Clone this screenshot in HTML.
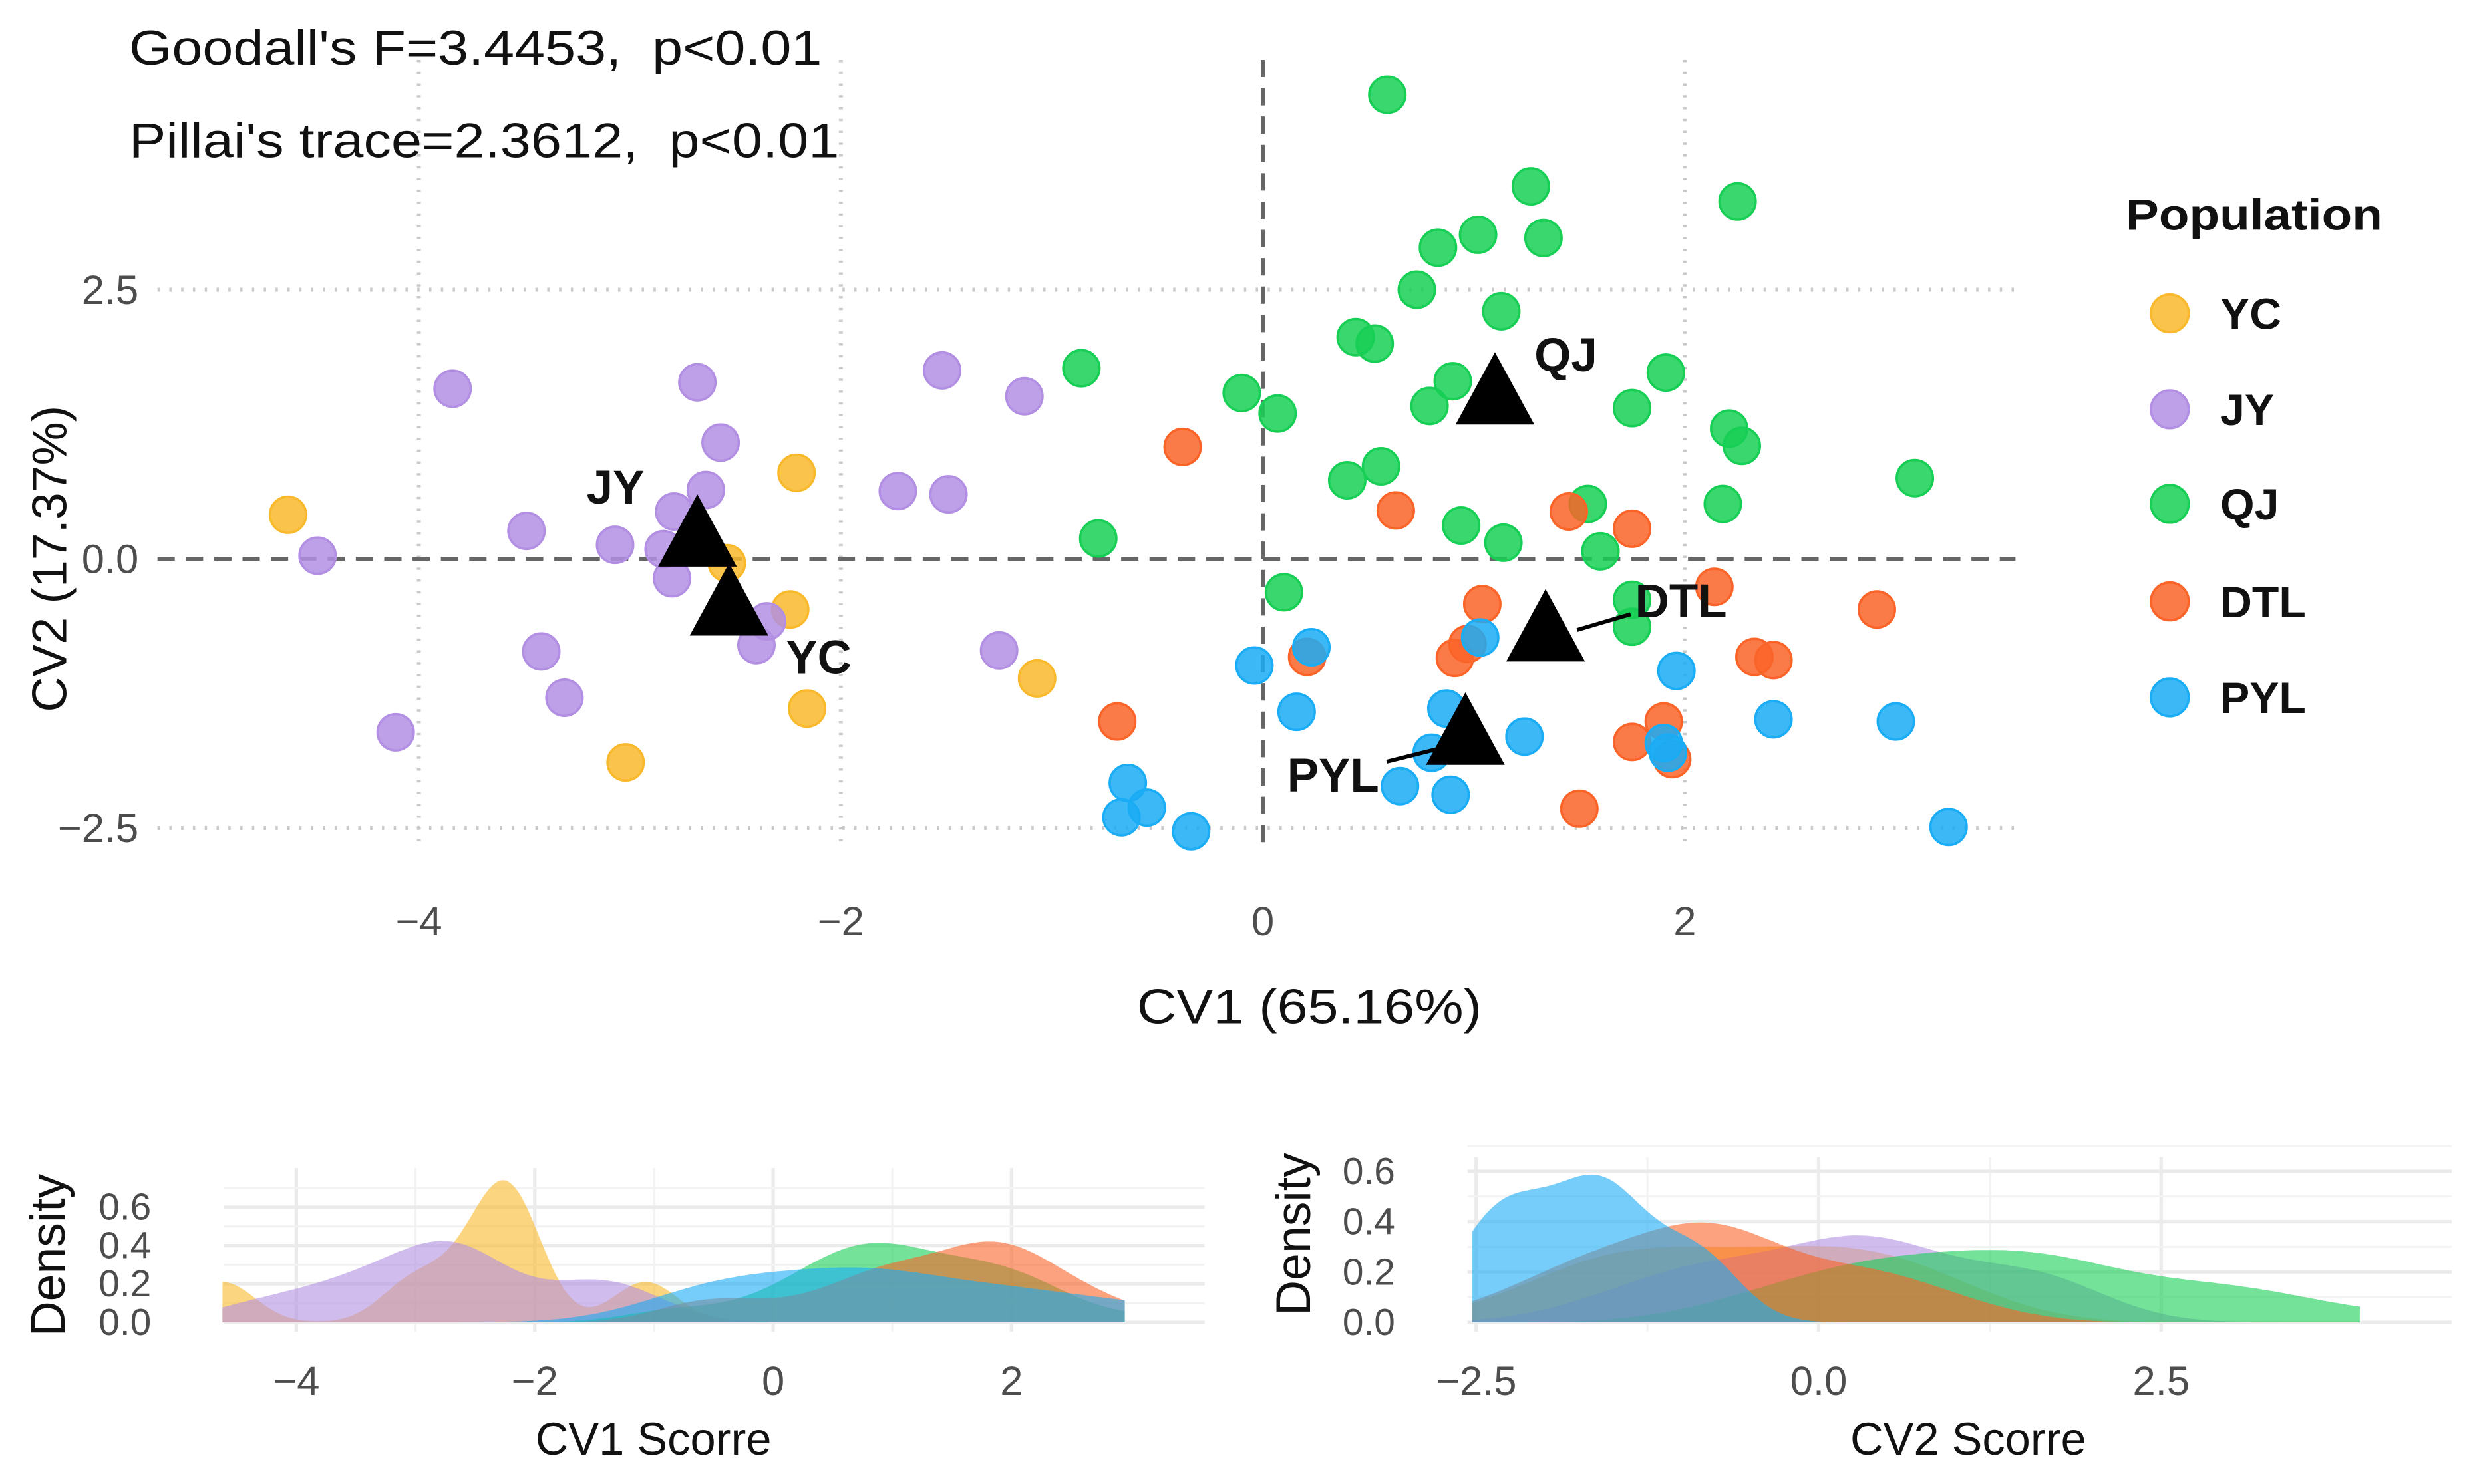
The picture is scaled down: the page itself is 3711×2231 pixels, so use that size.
<!DOCTYPE html>
<html><head><meta charset="utf-8"><style>
html,body{margin:0;padding:0;background:#fff}
svg{display:block}
text{font-family:"Liberation Sans",Arial,sans-serif;white-space:pre}
</style></head><body>
<svg id="chart" width="3711" height="2231" viewBox="0 0 1568 942.64" xmlns="http://www.w3.org/2000/svg">
<g id="main"></g>
<g id="d1"></g>
<g id="d2"></g>
<text x="82" y="41" font-size="31" fill="#111" xml:space="preserve" textLength="440" lengthAdjust="spacingAndGlyphs">Goodall's F=3.4453,  p&lt;0.01</text>
<text x="82" y="100" font-size="31" fill="#111" xml:space="preserve" textLength="451" lengthAdjust="spacingAndGlyphs">Pillai's trace=2.3612,  p&lt;0.01</text>
</svg>
<script>
const groups = ["YC","JY","QJ","DTL","PYL"];
const colors = ["#F9B92C","#B28FE3","#17CF55","#FA6428","#1AACF5"];
const ycX = [-4.62,-2.21,-2.54,-2.24,-2.16,-3.02,-1.07];
const ycY = [0.41,0.80,-0.04,-0.47,-1.39,-1.89,-1.11];
const jyX = [-3.84,-4.48,-3.49,-3.07,-2.68,-2.57,-2.64,-2.79,-2.84,-2.80,-3.42,-3.31,-4.11,-1.52,-1.13,-1.73,-1.49,-2.35,-2.40,-1.25];
const jyY = [1.58,0.03,0.26,0.13,1.64,1.08,0.64,0.44,0.09,-0.18,-0.86,-1.29,-1.61,1.75,1.51,0.63,0.60,-0.58,-0.80,-0.85];
const qjX = [0.59,1.27,2.25,1.02,1.33,0.83,0.73,1.13,0.44,0.53,-0.86,-0.10,0.07,0.90,0.79,1.91,1.75,2.21,2.27,0.56,0.40,3.09,2.18,1.54,0.94,1.14,1.60,-0.78,0.10,1.75,1.75];
const qjY = [4.31,3.46,3.32,3.01,2.98,2.89,2.50,2.30,2.06,2.00,1.77,1.54,1.35,1.65,1.42,1.73,1.40,1.21,1.05,0.86,0.73,0.75,0.51,0.51,0.31,0.15,0.07,0.19,-0.31,-0.38,-0.63];
const dtlX = [-0.38,0.63,1.45,1.75,1.04,0.97,0.91,0.21,2.14,2.91,2.33,2.42,-0.69,1.90,1.75,1.94,1.50];
const dtlY = [1.04,0.45,0.44,0.28,-0.42,-0.79,-0.92,-0.91,-0.26,-0.47,-0.91,-0.94,-1.51,-1.51,-1.70,-1.86,-2.32];
const pylX = [-0.04,0.23,1.03,0.16,0.87,0.80,1.24,1.96,2.42,3.00,1.90,1.92,-0.64,-0.67,-0.55,-0.34,0.65,0.89,3.25];
const pylY = [-0.99,-0.82,-0.73,-1.42,-1.39,-1.80,-1.65,-1.04,-1.49,-1.51,-1.71,-1.80,-2.08,-2.40,-2.31,-2.53,-2.11,-2.19,-2.49];
const centX = [-2.53,-2.68,1.10,1.34,0.96];
const centY = [-0.42,0.22,1.54,-0.66,-1.62];
const xTicks = [-4,-2,0,2];
const yTicks = [-2.5,0,2.5];
const d1XTicks = [-4,-2,0,2];
const d2XTicks = [-2.5,0,2.5];
const d1YTicks = [0,0.2,0.4,0.6];
const d2YTicks = [0,0.2,0.4,0.6];

const NS="http://www.w3.org/2000/svg";
function mk(parent,tag,attrs,txt){const e=document.createElementNS(NS,tag);for(const k in attrs)e.setAttribute(k,attrs[k]);if(txt!==undefined)e.textContent=txt;parent.appendChild(e);return e;}
const allX=[ycX,jyX,qjX,dtlX,pylX], allY=[ycY,jyY,qjY,dtlY,pylY];

const main=document.getElementById('main');
const sx=v=>802+v*134, sy=v=>355-v*68.4;
for(const t of xTicks){ if(t!==0){const l=mk(main,'line',{x1:sx(t),x2:sx(t),y1:38,y2:535,stroke:'#c8c8c8','stroke-width':2.5,'stroke-dasharray':'1.5 6'});

}
 const tx=mk(main,'text',{x:sx(t),y:594,'font-size':26,fill:'#4d4d4d','text-anchor':'middle'},(t<0?'\u2212'+Math.abs(t):String(t)));
 
 }
for(const t of yTicks){ if(t!==0){const l=mk(main,'line',{x1:100,x2:1280,y1:sy(t),y2:sy(t),stroke:'#c8c8c8','stroke-width':2.5,'stroke-dasharray':'1.5 6'});

}
 const tt=mk(main,'text',{x:88,y:sy(t)+9,'font-size':26,fill:'#4d4d4d','text-anchor':'end'},(t<0?'\u2212':'')+Math.abs(t).toFixed(1));
 
 }
mk(main,'line',{x1:sx(0),x2:sx(0),y1:38,y2:535,stroke:'#666','stroke-width':2.5,'stroke-dasharray':'11 7'});
mk(main,'line',{x1:100,x2:1280,y1:sy(0),y2:sy(0),stroke:'#666','stroke-width':2.5,'stroke-dasharray':'11 7'});
for(let g=0;g<5;g++){for(let i=0;i<allX[g].length;i++){const c=mk(main,'circle',{cx:sx(allX[g][i]),cy:sy(allY[g][i]),r:11.5,fill:colors[g],'fill-opacity':0.85,stroke:colors[g],'stroke-width':1.5});

}}
const labOff=[[57,44],[-52,-20],[45,-14],[86,-8],[-84,37]];
for(let g=0;g<5;g++){const x=sx(centX[g]),y=sy(centY[g]);
 const tr=mk(main,'polygon',{points:`${x},${y-26} ${x-25},${y+20} ${x+25},${y+20}`,fill:'#000'});
 
 
 if(g===3) mk(main,'line',{x1:x+20,x2:x+54,y1:y,y2:y-10,stroke:'#000','stroke-width':2.5});
 if(g===4) mk(main,'line',{x1:x-10,x2:x-50,y1:y+8,y2:y+18,stroke:'#000','stroke-width':2.5});
 const lb=mk(main,'text',{x:x+labOff[g][0],y:y+labOff[g][1],'font-size':30,'font-weight':'bold',fill:'#111','text-anchor':'middle'},groups[g]);
 
 }
mk(main,'text',{x:722,y:650,'font-size':31,fill:'#111',textLength:219,lengthAdjust:'spacingAndGlyphs'},'CV1 (65.16%)');
mk(main,'text',{x:0,y:0,'font-size':31,fill:'#111','text-anchor':'middle',transform:'translate(42,355) rotate(-90)'},'CV2 (17.37%)');
mk(main,'text',{x:1350,y:146,'font-size':28,'font-weight':'bold',fill:'#111',textLength:163,lengthAdjust:'spacingAndGlyphs'},'Population');
const ly=[199,260,320,382,443];
for(let g=0;g<5;g++){const c=mk(main,'circle',{cx:1378,cy:ly[g],r:12,fill:colors[g],'fill-opacity':0.85,stroke:colors[g],'stroke-width':1.5});


const t=mk(main,'text',{x:1410,y:ly[g]+10,'font-size':28,'font-weight':'bold',fill:'#111'},groups[g]);

}

function kde(vals,lo,hi){const n=vals.length,m=vals.reduce((a,b)=>a+b,0)/n;
 const sd=Math.sqrt(vals.reduce((a,b)=>a+(b-m)**2,0)/(n-1));
 const s=[...vals].sort((a,b)=>a-b);const q=p=>{const h=(n-1)*p,i=Math.floor(h);return s[i]+(h-i)*((s[i+1]??s[i])-s[i]);};
 const iqr=(q(0.75)-q(0.25))/1.34;const bw=0.9*Math.min(sd,iqr>0?iqr:sd)*Math.pow(n,-0.2);
 const pts=[];for(let k=0;k<=200;k++){const x=lo+(hi-lo)*k/200;let d=0;for(const v of vals)d+=Math.exp(-0.5*((x-v)/bw)**2);pts.push([x,d/(n*bw*Math.sqrt(2*Math.PI))]);}return pts;}
function density(id,data,x0,xs,y0,ys,xt,yt,left,right,top,title,titleX,yTitleX,fmt,hiCut){
 const G=document.getElementById(id);const px=v=>x0+v*xs,py=v=>y0-v*ys;
 const flat=data.flat();const lo=Math.min(...flat),hi=Math.min(Math.max(...flat),hiCut);
 for(let i=0;i<xt.length;i++){const t=xt[i];mk(G,'line',{x1:px(t),x2:px(t),y1:top,y2:y0+6,stroke:'#ebebeb','stroke-width':2.2});
  if(i<xt.length-1){const mt=(t+xt[i+1])/2;mk(G,'line',{x1:px(mt),x2:px(mt),y1:top,y2:y0+6,stroke:'#f3f3f3','stroke-width':1.3});}
  const tl=mk(G,'text',{x:px(t),y:y0+46,'font-size':26,fill:'#4d4d4d','text-anchor':'middle'},fmt(t));
  
  }
 for(const t of yt){mk(G,'line',{x1:left,x2:right,y1:py(t),y2:py(t),stroke:'#ebebeb','stroke-width':2.2});
  mk(G,'line',{x1:left,x2:right,y1:py(t+0.1),y2:py(t+0.1),stroke:'#f3f3f3','stroke-width':1.3});
  const tl=mk(G,'text',{x:left-46,y:py(t)+8,'font-size':24,fill:'#4d4d4d','text-anchor':'end'},t.toFixed(1));
  
  }
 for(let g=0;g<5;g++){const pts=kde(data[g],lo,hi);let d=`M${px(lo)},${py(0)}`;for(const [x,y] of pts)d+=`L${px(x).toFixed(1)},${py(y).toFixed(1)}`;d+=`L${px(hi)},${py(0)}Z`;
  const p=mk(G,'path',{d,fill:colors[g],'fill-opacity':0.6});
  
  }
 mk(G,'text',{x:titleX,y:y0+84,'font-size':29,fill:'#111','text-anchor':'middle'},title);
 mk(G,'text',{x:0,y:0,'font-size':31,fill:'#111','text-anchor':'middle',transform:`translate(${yTitleX},${py(0.35)}) rotate(-90)`},'Density');
}
const neg=t=>(t<0?'\u2212':'')+Math.abs(t);
density('d1',allX,491,75.7,840,122,d1XTicks,d1YTicks,142,765,742,'CV1 Scorre',415,41,t=>neg(t),2.95);
density('d2',allY,1155,87,840,160,d2XTicks,d2YTicks,932,1557,735,'CV2 Scorre',1250,832,t=>(t<0?'\u2212':'')+Math.abs(t).toFixed(1),3.95);
</script>
</body></html>
